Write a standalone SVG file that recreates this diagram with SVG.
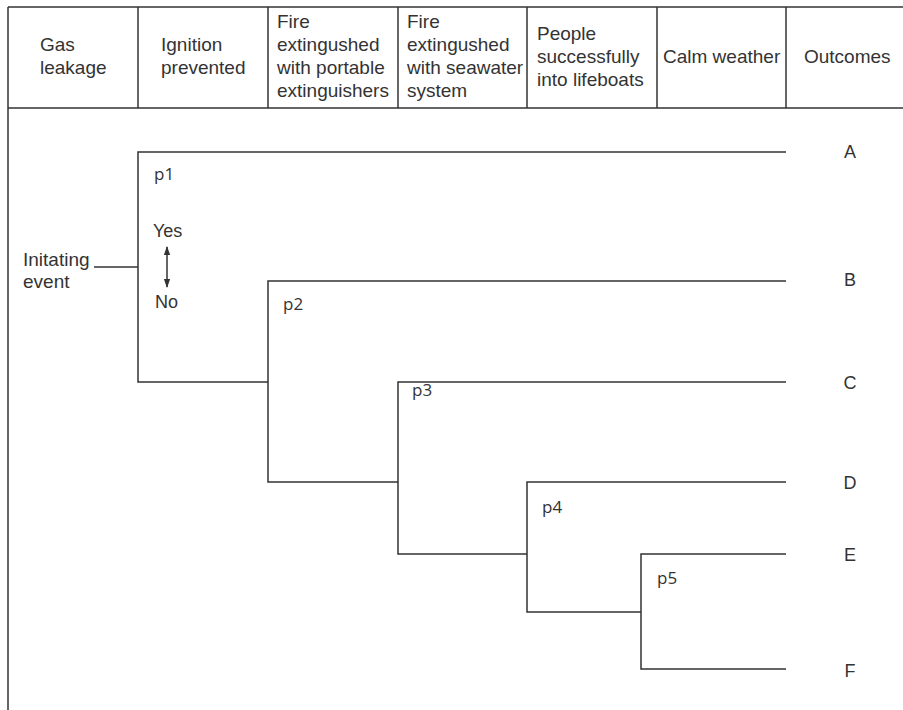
<svg xmlns="http://www.w3.org/2000/svg" width="903" height="710" viewBox="0 0 903 710">
  <style>
    .ln { stroke: #333; stroke-width: 1.5; fill: none; }
    .hd { font-family: "Liberation Sans", Arial, sans-serif; font-size: 19px; fill: #333; }
    .lb { font-family: "Liberation Sans", Arial, sans-serif; font-size: 19px; fill: #333; }
    .yn { font-family: "Liberation Sans", Arial, sans-serif; font-size: 18px; fill: #333; }
    .pl { font-family: "Open Sans", "Noto Sans", sans-serif; font-size: 17px; fill: #333; }
    .oc { font-family: "Liberation Sans", Arial, sans-serif; font-size: 18px; fill: #333; text-anchor: middle; }
  </style>
  <defs>
    <marker id="ah" viewBox="0 0 10 10" refX="9" refY="5" markerWidth="9" markerHeight="9" orient="auto-start-reverse" markerUnits="userSpaceOnUse">
      <path d="M0,1.5 L10,5 L0,8.5 z" fill="#333"/>
    </marker>
  </defs>
  <rect width="903" height="710" fill="#fff"/>

  <g id="frame" class="ln">
    <line x1="8" y1="7" x2="903" y2="7"/>
    <line x1="8" y1="108" x2="903" y2="108"/>
    <line x1="8" y1="7" x2="8" y2="710"/>
    <line x1="138" y1="7" x2="138" y2="108"/>
    <line x1="268" y1="7" x2="268" y2="108"/>
    <line x1="398" y1="7" x2="398" y2="108"/>
    <line x1="527" y1="7" x2="527" y2="108"/>
    <line x1="657" y1="7" x2="657" y2="108"/>
    <line x1="786" y1="7" x2="786" y2="108"/>
  </g>

  <g id="header">
    <text class="hd"><tspan x="40" y="51">Gas</tspan><tspan x="40" y="74">leakage</tspan></text>
    <text class="hd"><tspan x="161" y="51">Ignition</tspan><tspan x="161" y="74">prevented</tspan></text>
    <text class="hd"><tspan x="277" y="28">Fire</tspan><tspan x="277" y="51">extingushed</tspan><tspan x="277" y="74">with portable</tspan><tspan x="277" y="97">extinguishers</tspan></text>
    <text class="hd"><tspan x="407" y="28">Fire</tspan><tspan x="407" y="51">extingushed</tspan><tspan x="407" y="74">with seawater</tspan><tspan x="407" y="97">system</tspan></text>
    <text class="hd"><tspan x="537" y="40">People</tspan><tspan x="537" y="63">successfully</tspan><tspan x="537" y="86">into lifeboats</tspan></text>
    <text class="hd" x="663" y="63">Calm weather</text>
    <text class="hd" x="804" y="63">Outcomes</text>
  </g>

  <g id="initiating-event">
    <text class="lb"><tspan x="23" y="266">Initating</tspan><tspan x="23" y="288">event</tspan></text>
  </g>

  <g id="connectors" class="ln">
    <line x1="94" y1="267" x2="138" y2="267"/>
    <polyline points="786,152 138,152 138,382 268,382"/>
    <polyline points="786,281 268,281 268,482 398,482"/>
    <polyline points="786,382 398,382 398,554 527,554"/>
    <polyline points="786,482 527,482 527,612 641,612"/>
    <polyline points="786,554 641,554 641,669 786,669"/>
    <line x1="167" y1="247" x2="167" y2="287" marker-start="url(#ah)" marker-end="url(#ah)"/>
  </g>

  <g id="yes-no">
    <text class="yn" x="153" y="237">Yes</text>
    <text class="yn" x="155" y="308">No</text>
  </g>

  <g id="p1"><text class="pl" x="154" y="180">p1</text></g>
  <g id="p2"><text class="pl" x="283" y="310">p2</text></g>
  <g id="p3"><text class="pl" x="412" y="396">p3</text></g>
  <g id="p4"><text class="pl" x="542" y="513">p4</text></g>
  <g id="p5"><text class="pl" x="657" y="584">p5</text></g>

  <g id="outcome-A"><text class="oc" x="850" y="158">A</text></g>
  <g id="outcome-B"><text class="oc" x="850" y="286">B</text></g>
  <g id="outcome-C"><text class="oc" x="850" y="389">C</text></g>
  <g id="outcome-D"><text class="oc" x="850" y="489">D</text></g>
  <g id="outcome-E"><text class="oc" x="850" y="561">E</text></g>
  <g id="outcome-F"><text class="oc" x="850" y="677">F</text></g>
</svg>
